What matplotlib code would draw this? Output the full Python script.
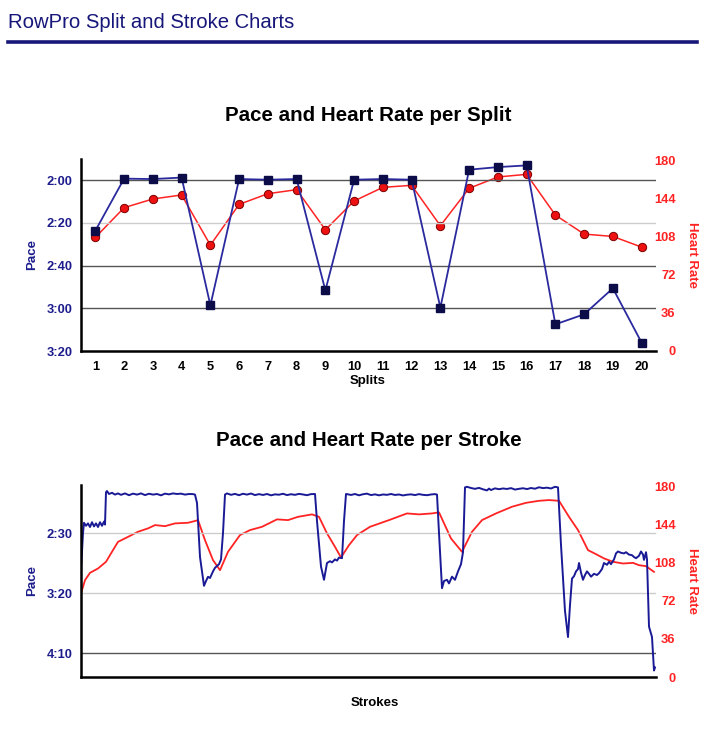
import matplotlib
matplotlib.use("Agg")
import matplotlib.pyplot as plt
from matplotlib.ticker import FuncFormatter

plt.rcParams['font.family'] = ['Liberation Sans', 'DejaVu Sans']
plt.rcParams['font.weight'] = 'bold'

# -------------------------------
# Split data (pace in seconds per 500m, heart rate in bpm)
# -------------------------------
splits = list(range(1, 21))
split_pace = [143.6, 119.2, 119.4, 118.7, 178.6, 119.4, 119.7, 119.4, 171.6, 119.7,
              119.4, 119.7, 179.7, 115.0, 113.8, 113.0, 187.5, 182.8, 170.6, 196.1]
split_hr = [107.4, 135.5, 143.7, 147.5, 100.1, 138.6, 148.7, 152.5, 114.6, 141.8,
            154.7, 156.6, 118.4, 153.8, 164.5, 167.0, 128.5, 110.5, 108.3, 98.2]

# -------------------------------
# Stroke data
# -------------------------------
stroke_pace_n = [0, 1, 2, 3, 5, 7, 9, 11, 13, 15, 17, 19, 21, 23, 24, 25, 26, 28, 31, 34,
                 37, 40, 44, 48, 52, 56, 60, 64, 68, 72, 76, 80, 84, 88, 92, 96, 100, 104, 108, 112,
                 114, 116, 119, 123, 125, 127, 129, 132, 134, 136, 138, 140, 142, 144, 146, 150, 154, 158, 162, 166,
                 170, 174, 178, 182, 186, 190, 194, 198, 202, 206, 210, 214, 218, 222, 226, 230, 234, 236, 240, 243,
                 246, 249, 251, 254, 256, 258, 261, 263, 265, 266, 270, 274, 278, 282, 286, 290, 294, 298, 302, 306,
                 310, 314, 318, 322, 326, 330, 334, 338, 342, 346, 350, 354, 356, 358, 361, 363, 366, 368, 371, 374,
                 377, 380, 382, 384, 386, 390, 394, 398, 402, 406, 408, 410, 414, 418, 422, 426, 430, 434, 438, 442,
                 446, 450, 454, 458, 462, 466, 470, 474, 477, 480, 484, 487, 489, 491, 493, 495, 497, 498, 500, 502,
                 504, 506, 508, 510, 513, 516, 518, 521, 523, 526, 528, 530, 533, 535, 537, 540, 543, 545, 548, 551,
                 553, 555, 558, 560, 562, 563, 565, 566, 568, 571, 573, 574]
stroke_pace = [181, 165, 150, 141.5, 144, 142, 145, 141, 144.5, 142, 145, 141, 144, 140.5, 143, 116, 115, 117.5, 116.5, 118,
               117, 118.2, 117, 118.5, 117.2, 118, 117, 118.4, 117.3, 118, 117.5, 118.6, 117.2, 117.8, 117, 117.5, 117.2, 118, 117.5, 117.6,
               118, 125, 170, 194, 190, 186.5, 187.5, 182, 179, 177.5, 176, 172, 150, 118, 117, 118.2, 117.4, 118.5, 117.3, 118,
               117.1, 118.4, 117.6, 118.3, 117.5, 118.6, 117.8, 118.1, 117.3, 118.4, 117.7, 118.2, 117.4, 117.9, 118.5, 117.6, 117.5, 140, 178, 189,
               175, 173.5, 174.5, 172, 173, 170.5, 171, 140, 117.5, 117.6, 118.3, 117.5, 118.6, 117.7, 117.2, 118.4, 117.8, 118.6, 117.9, 118.2,
               117.5, 118.3, 117.9, 118.7, 118.1, 117.8, 118.4, 117.6, 118.2, 118.5, 117.9, 117.6, 118, 150, 196, 190, 189, 192, 186.4, 189,
               182, 176, 166, 112, 111.5, 112.5, 113.2, 112.4, 113.6, 114.5, 113, 114.2, 112.8, 113.5, 112.9, 113.3, 112.6, 113.8, 113.2, 112.7,
               113.4, 112.5, 113.1, 111.9, 112.6, 112.2, 112.9, 111.5, 112, 160, 215, 236.7, 210, 188, 186, 182, 180, 175, 183, 189,
               185, 182, 184, 186.4, 184, 185, 183.5, 180, 175, 176.5, 174, 176, 172, 167, 165.4, 166.5, 167, 166, 168, 168.5,
               170, 171, 169, 165.4, 168, 172.4, 166, 172, 228, 236.7, 264.6, 262]

stroke_hr_n = [0, 4, 9, 17, 25, 30, 37, 47, 57, 67, 74, 84, 94, 107, 115, 117, 124, 132, 139, 147,
               159, 169, 181, 196, 207, 217, 231, 238, 246, 254, 260, 268, 276, 289, 308, 326, 338, 351, 358, 370,
               381, 391, 401, 415, 431, 445, 458, 468, 478, 488, 497, 507, 515, 523, 532, 542, 552, 558, 565, 573]
stroke_hr = [78.7, 91.3, 98.2, 102.3, 108.6, 116.5, 127.4, 132.1, 136.9, 140.1, 143.2, 142.2, 144.8, 145.4, 147.3, 148, 129, 110.2, 100.7, 118,
             133.8, 138.5, 141.6, 148.6, 147.9, 151, 153.3, 151, 135.4, 122.7, 112.7, 124.3, 133.8, 141.6, 147.9, 154.2, 153.3, 154.2, 155.2, 130.6,
             118, 136.9, 147.9, 154.2, 160.5, 164.2, 166.1, 166.8, 166.1, 151, 138.5, 119.6, 115.8, 111.8, 108.6, 107, 107.6, 105.4, 104.5, 99.1]

top_pace_ticks = [120, 140, 160, 180, 200]
bottom_pace_ticks = [150, 200, 250]
hr_ticks = [0, 36, 72, 108, 144, 180]

NAVY = '#1c1c8c'
RED = '#ff2323'


def pace_fmt(v, pos):
    v = int(round(v))
    return "%d:%02d" % (v // 60, v % 60)


def style_axes(ax, ax2):
    for s in ['top', 'right']:
        ax.spines[s].set_visible(False)
        ax2.spines[s].set_visible(False)
    for s in ['left', 'bottom']:
        ax.spines[s].set_linewidth(1.8)
        ax2.spines[s].set_visible(False)
    ax.yaxis.set_major_formatter(FuncFormatter(pace_fmt))
    ax.tick_params(axis='y', length=0, pad=6, labelsize=9.3, labelcolor=NAVY)
    ax2.tick_params(axis='y', length=0, pad=14, labelsize=9.3, labelcolor=RED)
    for lab in ax2.get_yticklabels():
        lab.set_ha('right')
        lab.set_fontweight('bold')
    for lab in ax.get_yticklabels():
        lab.set_fontweight('bold')
    ax.set_ylabel("Pace", color=NAVY, fontsize=9.5, fontweight='bold', labelpad=6)
    ax2.set_ylabel("Heart Rate", color=RED, fontsize=9.5, fontweight='bold',
                   rotation=270, labelpad=16)


fig = plt.figure(figsize=(7.17, 7.29), dpi=100)

# header
fig.text(8 / 717, 1 - 22 / 729, "RowPro Split and Stroke Charts", color='#17177a',
         fontsize=14.6, fontweight='normal', ha='left', va='center')
fig.add_artist(plt.Line2D([8 / 717, 697 / 717], [1 - 42 / 729, 1 - 42 / 729],
                          color='#17177a', linewidth=2.6))

# -------------------------------
# Split chart
# -------------------------------
ax = fig.add_axes([81 / 717, 1 - 351 / 729, 575 / 717, 192 / 729])
ax2 = ax.twinx()
ax.set_xlim(0.5, 20.5)
ax.set_ylim(200, 110)
ax2.set_ylim(0, 181.5)
for t, c in zip(top_pace_ticks[:-1], ['#555555', '#cccccc', '#555555', '#555555']):
    ax.axhline(t, color=c, linewidth=1.0, zorder=0)
ax.set_yticks(top_pace_ticks)
ax2.set_yticks(hr_ticks)
ax.set_xticks(splits)
ax.tick_params(axis='x', length=0, pad=7, labelsize=9.3)
for lab in ax.get_xticklabels():
    lab.set_fontweight('bold')
ax2.plot(splits, split_hr, color=RED, linewidth=1.1, marker='o', markersize=6,
         markerfacecolor='#ee1111', markeredgecolor='#7a0000', markeredgewidth=0.7)
ax.plot(splits, split_pace, color='#2a2a9e', linewidth=1.3, marker='s', markersize=6,
        markerfacecolor='#0c0c48', markeredgecolor='#0c0c48')
ax.set_zorder(ax2.get_zorder() + 1)
ax.patch.set_visible(False)
style_axes(ax, ax2)
ax.set_title("Pace and Heart Rate per Split", fontsize=14.8, fontweight='bold', pad=27)
fig.text(368 / 717, 1 - 381 / 729, "Splits", ha='center', va='center', fontsize=9.5,
         fontweight='bold')

# -------------------------------
# Stroke chart
# -------------------------------
bx = fig.add_axes([81 / 717, 1 - 677 / 729, 575 / 717, 192 / 729])
bx2 = bx.twinx()
bx.set_xlim(0, 575)
bx.set_ylim(270, 110)
bx2.set_ylim(0, 181)
for t, c in zip(bottom_pace_ticks, ['#cccccc', '#cccccc', '#555555']):
    bx.axhline(t, color=c, linewidth=1.0, zorder=0)
bx.set_yticks(bottom_pace_ticks)
bx2.set_yticks(hr_ticks)
bx.set_xticks([])
bx2.plot(stroke_hr_n, stroke_hr, color=RED, linewidth=1.3)
bx.plot(stroke_pace_n, stroke_pace, color='#1a1a96', linewidth=1.4)
bx.set_zorder(bx2.get_zorder() + 1)
bx.patch.set_visible(False)
style_axes(bx, bx2)
bx.set_title("Pace and Heart Rate per Stroke", fontsize=14.8, fontweight='bold', pad=28)
fig.text(375 / 717, 1 - 703 / 729, "Strokes", ha='center', va='center', fontsize=9.5,
         fontweight='bold')

fig.savefig("out.png", dpi=100)
